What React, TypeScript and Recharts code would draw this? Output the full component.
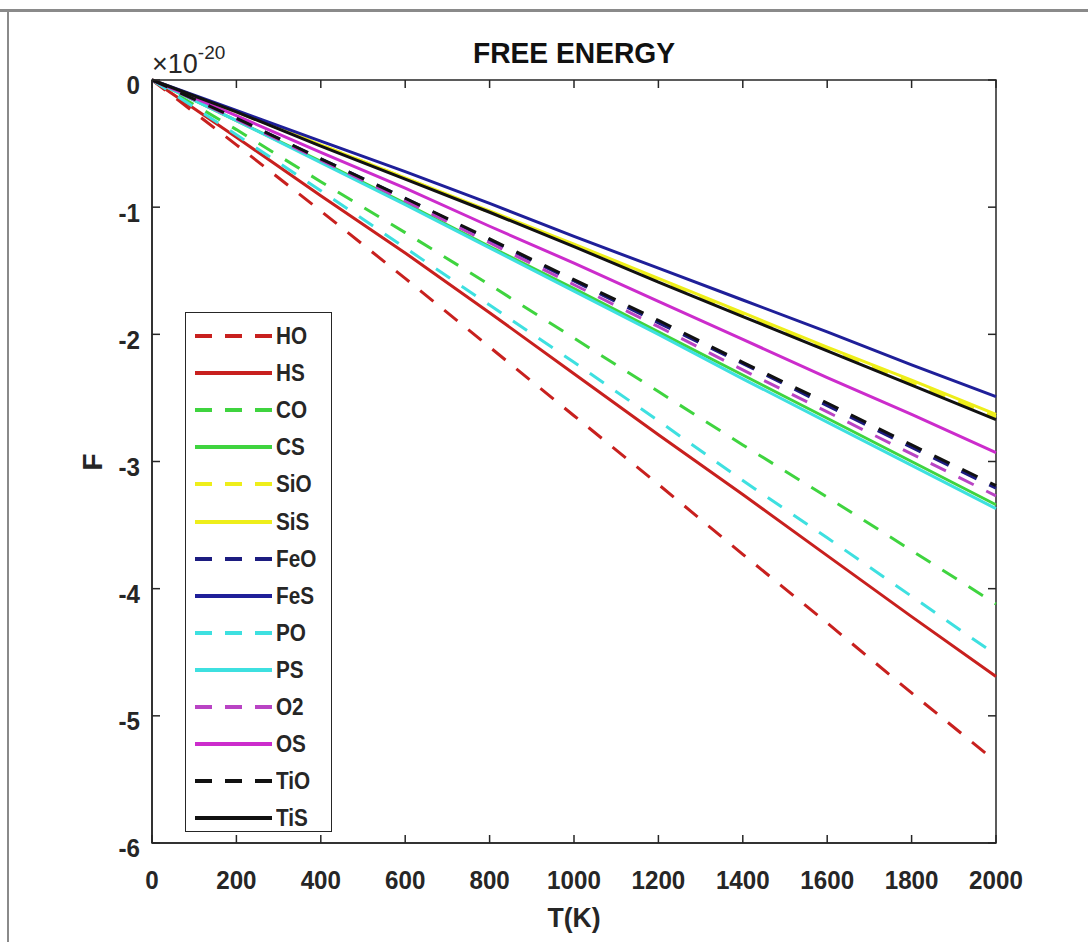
import React from "react"
import { LineChart, Line, XAxis, YAxis, ReferenceArea } from "recharts"

// temperature grid (K)
const temps = [0, 200, 400, 600, 800, 1000, 1200, 1400, 1600, 1800, 2000]

// free energy, units of 1e-20
const HO = [0, -0.51, -1.03, -1.56, -2.1, -2.64, -3.18, -3.73, -4.27, -4.82, -5.36]
const HS = [0, -0.45, -0.91, -1.36, -1.83, -2.31, -2.79, -3.26, -3.74, -4.22, -4.69]
const CO = [0, -0.39, -0.8, -1.2, -1.61, -2.03, -2.45, -2.87, -3.28, -3.7, -4.12]
const CS = [0, -0.32, -0.64, -0.97, -1.31, -1.64, -1.98, -2.32, -2.66, -3.0, -3.34]
const SiO = [0, -0.25, -0.51, -0.77, -1.04, -1.3, -1.57, -1.84, -2.11, -2.38, -2.65]
const SiS = [0, -0.25, -0.51, -0.77, -1.03, -1.29, -1.56, -1.83, -2.1, -2.36, -2.63]
const FeO = [0, -0.3, -0.62, -0.93, -1.26, -1.58, -1.91, -2.23, -2.56, -2.89, -3.21]
const FeS = [0, -0.24, -0.48, -0.72, -0.97, -1.23, -1.48, -1.73, -1.98, -2.24, -2.49]
const PO = [0, -0.43, -0.87, -1.32, -1.77, -2.22, -2.68, -3.15, -3.6, -4.06, -4.52]
const PS = [0, -0.32, -0.65, -0.98, -1.32, -1.66, -2.0, -2.35, -2.69, -3.03, -3.37]
const O2 = [0, -0.31, -0.63, -0.95, -1.28, -1.61, -1.94, -2.28, -2.61, -2.94, -3.27]
const OS = [0, -0.28, -0.57, -0.85, -1.15, -1.44, -1.74, -2.04, -2.34, -2.63, -2.93]
const TiO = [0, -0.3, -0.62, -0.93, -1.25, -1.57, -1.89, -2.22, -2.54, -2.87, -3.19]
const TiS = [0, -0.25, -0.52, -0.78, -1.04, -1.31, -1.59, -1.86, -2.13, -2.4, -2.67]

const xTicks = [0, 200, 400, 600, 800, 1000, 1200, 1400, 1600, 1800, 2000]
const yTicks = [0, -1, -2, -3, -4, -5, -6]

const series = [
  { name: "HO", values: HO, color: "#c8201e", dashed: true },
  { name: "HS", values: HS, color: "#c8201e", dashed: false },
  { name: "CO", values: CO, color: "#3fd43f", dashed: true },
  { name: "CS", values: CS, color: "#3fd43f", dashed: false },
  { name: "SiO", values: SiO, color: "#eeee1a", dashed: true },
  { name: "SiS", values: SiS, color: "#eeee1a", dashed: false },
  { name: "FeO", values: FeO, color: "#1c1c80", dashed: true },
  { name: "FeS", values: FeS, color: "#1f1f99", dashed: false },
  { name: "PO", values: PO, color: "#3ee0e0", dashed: true },
  { name: "PS", values: PS, color: "#3ee0e0", dashed: false },
  { name: "O2", values: O2, color: "#b944c4", dashed: true },
  { name: "OS", values: OS, color: "#cc2ccc", dashed: false },
  { name: "TiO", values: TiO, color: "#111111", dashed: true },
  { name: "TiS", values: TiS, color: "#111111", dashed: false },
]

const data = temps.map((t, i) => {
  const row: Record<string, number> = { T: t }
  series.forEach((s) => (row[s.name] = s.values[i]))
  return row
})

const FONT = "'Liberation Sans', Arial, sans-serif"
const INK = "#262626"
const DASH = "17 14"

// plot box edges, follow from the chart margins below
const LEFT = 152
const RIGHT = 996
const TOP = 80
const BOTTOM = 843
const TICK = 8

// MATLAB style: ticks point inward, on both sides of the box
function XTick(props: any) {
  const { x, y, payload } = props
  return (
    <g>
      <line x1={x} x2={x} y1={BOTTOM} y2={BOTTOM - TICK} stroke={INK} strokeWidth={1.5} />
      <line x1={x} x2={x} y1={TOP} y2={TOP + TICK} stroke={INK} strokeWidth={1.5} />
      <g transform={`translate(${x},${y})`}>
        <text transform="scale(0.93,1)" textAnchor="middle" dy="0.72em" fontSize={26} fontWeight="bold" fontFamily={FONT} fill={INK}>
          {payload.value}
        </text>
      </g>
    </g>
  )
}

function YTick(props: any) {
  const { x, y, payload } = props
  return (
    <g>
      <line x1={LEFT} x2={LEFT + TICK} y1={y} y2={y} stroke={INK} strokeWidth={1.5} />
      <line x1={RIGHT} x2={RIGHT - TICK} y1={y} y2={y} stroke={INK} strokeWidth={1.5} />
      <g transform={`translate(${x},${y + 5})`}>
        <text transform="scale(0.93,1)" textAnchor="end" dy="0.36em" fontSize={26} fontWeight="bold" fontFamily={FONT} fill={INK}>
          {payload.value}
        </text>
      </g>
    </g>
  )
}

export default function App() {
  return (
    <div style={{ position: "absolute", left: 0, top: 0, width: 1088, height: 942, background: "#fff", overflow: "hidden" }}>
      {/* outer figure frame */}
      <div style={{ position: "absolute", left: 0, top: 9, width: 1088, height: 0, borderTop: "3px solid #8a8a8a" }} />
      <div style={{ position: "absolute", left: 7, top: 9, width: 0, height: 940, borderLeft: "2px solid #8a8a8a" }} />

      <div style={{ position: "absolute", left: 0, top: 0 }}>
        <LineChart width={1088} height={942} data={data} margin={{ top: 80, right: 92, bottom: 64, left: 92 }}>
          <XAxis
            xAxisId="b"
            dataKey="T"
            type="number"
            domain={[0, 2000]}
            ticks={xTicks}
            interval={0}
            height={35}
            tickSize={0}
            tickMargin={27}
            tick={XTick}
            axisLine={{ stroke: INK, strokeWidth: 1.5 }}
            tickLine={false}
          />
          <YAxis
            yAxisId="l"
            type="number"
            domain={[-6, 0]}
            ticks={yTicks}
            interval={0}
            width={60}
            tickSize={0}
            tickMargin={12}
            tick={YTick}
            axisLine={{ stroke: INK, strokeWidth: 1.5 }}
            tickLine={false}
          />
          {/* axes box */}
          <ReferenceArea
            xAxisId="b"
            yAxisId="l"
            x1={0}
            x2={2000}
            y1={-6}
            y2={0}
            fill="none"
            fillOpacity={0}
            stroke={INK}
            strokeWidth={1.5}
            strokeOpacity={1}
          />
          {series.map((s) => (
            <Line
              key={s.name}
              xAxisId="b"
              yAxisId="l"
              type="linear"
              dataKey={s.name}
              stroke={s.color}
              strokeWidth={3}
              strokeDasharray={s.dashed ? DASH : undefined}
              dot={false}
              activeDot={false}
              isAnimationActive={false}
            />
          ))}
        </LineChart>
      </div>

      {/* title and exponent */}
      <div style={{ position: "absolute", left: 574, top: 53, transform: "translate(-50%,-50%) scaleX(0.94)", fontFamily: FONT, fontWeight: "bold", fontSize: 30, color: "#111", whiteSpace: "nowrap" }}>
        FREE ENERGY
      </div>
      <div style={{ position: "absolute", left: 152, top: 47, fontFamily: FONT, fontSize: 27, color: INK, whiteSpace: "nowrap", lineHeight: 1 }}>
        ×10<sup style={{ fontSize: 19, position: "relative", top: -4 }}>-20</sup>
      </div>

      {/* axis labels */}
      <div style={{ position: "absolute", left: 93, top: 462, transform: "translate(-50%,-50%) rotate(-90deg)", fontFamily: FONT, fontWeight: "bold", fontSize: 28, color: INK }}>
        F
      </div>
      <div style={{ position: "absolute", left: 574, top: 918, transform: "translate(-50%,-50%) scaleX(0.95)", fontFamily: FONT, fontWeight: "bold", fontSize: 28, color: INK, whiteSpace: "nowrap" }}>
        T(K)
      </div>

      {/* legend */}
      <div style={{ position: "absolute", left: 185, top: 312, width: 145, height: 518, border: `1.5px solid ${INK}`, background: "#fff" }}>
        {series.map((s, i) => (
          <div key={s.name} style={{ position: "absolute", left: 9, top: 23 + i * 37.1, height: 0, width: 140 }}>
            <svg width={80} height={8} style={{ position: "absolute", left: 0, top: -4 }}>
              <line x1={0} y1={4} x2={77} y2={4} stroke={s.color} strokeWidth={4} strokeDasharray={s.dashed ? "17 13" : undefined} />
            </svg>
            <span style={{ position: "absolute", left: 81, top: -14, fontFamily: FONT, fontWeight: "bold", fontSize: 23, lineHeight: "28px", color: INK, transform: "scaleX(0.9)", transformOrigin: "left center", whiteSpace: "nowrap" }}>
              {s.name}
            </span>
          </div>
        ))}
      </div>
    </div>
  )
}
